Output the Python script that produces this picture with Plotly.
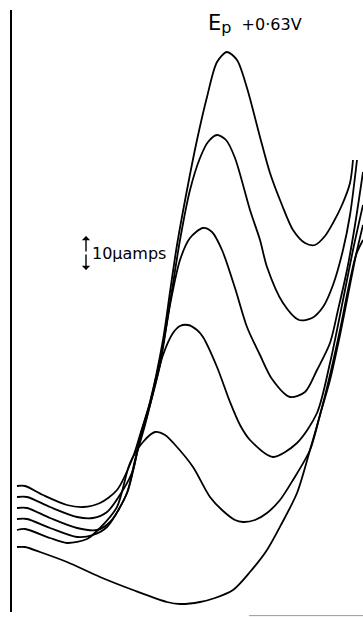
import plotly.graph_objects as go

# Potential axis (arbitrary units, left -> right) and current (arbitrary units, up)
# Baseline and five successive voltammograms.
E_base = [17, 25, 40, 67, 100, 133, 167, 180, 200, 215, 233, 250, 267, 282, 297, 310, 320, 330, 340, 348, 356, 363]
I_base = [70, 70, 65, 55, 40, 27, 15, 13, 15, 19, 27, 45, 67, 94, 124, 167, 202, 242, 287, 327, 362, 377]

E_c1 = [17, 25, 43, 67, 83, 100, 117, 133, 140, 150, 163, 170, 177, 187, 197, 207, 217, 227, 237, 247, 260, 270, 282, 293, 305, 315, 325, 333, 342, 350, 353]
I_c1 = [131, 131, 122, 112, 110, 114, 127, 160, 182, 215, 277, 325, 372, 427, 477, 520, 555, 565, 557, 529, 480, 444, 412, 387, 374, 372, 381, 394, 412, 434, 457]

E_c2 = [17, 27, 50, 77, 93, 107, 123, 133, 140, 150, 163, 172, 180, 190, 200, 208, 217, 226, 235, 250, 260, 267, 283, 299, 312, 323, 333, 343, 350, 357]
I_c2 = [120, 120, 110, 100, 99, 105, 127, 147, 180, 214, 272, 327, 377, 427, 459, 475, 482, 477, 459, 407, 377, 350, 314, 297, 299, 310, 332, 367, 402, 457]

E_c3 = [17, 27, 50, 77, 97, 110, 127, 140, 150, 160, 170, 180, 190, 203, 212, 222, 235, 247, 260, 272, 290, 305, 317, 330, 338, 347, 355, 363]
I_c3 = [109, 109, 99, 89, 87, 95, 124, 177, 212, 252, 312, 357, 379, 389, 385, 367, 329, 290, 262, 238, 220, 225, 247, 274, 307, 347, 392, 445]

E_c4 = [17, 27, 50, 77, 93, 107, 127, 135, 145, 155, 163, 173, 180, 188, 197, 203, 217, 230, 240, 250, 273, 297, 317, 330, 337, 345, 353, 363]
I_c4 = [98, 98, 89, 80, 82, 90, 124, 157, 192, 232, 262, 284, 291, 292, 287, 280, 250, 215, 192, 177, 160, 174, 204, 254, 287, 327, 367, 412]

E_c5 = [17, 25, 50, 67, 87, 100, 117, 130, 143, 155, 165, 177, 193, 210, 222, 235, 243, 255, 267, 280, 293, 310, 320, 330, 340, 348, 356, 363]
I_c5 = [87, 88, 79, 74, 78, 89, 110, 154, 175, 185, 182, 170, 150, 120, 107, 97, 95, 97, 104, 117, 137, 167, 202, 237, 282, 322, 362, 392]

curves = [(E_base, I_base), (E_c1, I_c1), (E_c2, I_c2), (E_c3, I_c3), (E_c4, I_c4), (E_c5, I_c5)]

title_text = ("<span style='font-size:21px'>E</span><sub><span style='font-size:16px'>p</span></sub>"
              "&nbsp;&nbsp;+0·63V")
scale_text = "10μamps"

fig = go.Figure()
for E, I in curves:
    fig.add_trace(go.Scatter(x=E, y=I, mode="lines", line=dict(color="black", width=1.8, shape="spline", smoothing=0.8),
                             hoverinfo="skip", showlegend=False, cliponaxis=False))

FONT = "DejaVu Sans"
fig.add_annotation(x=206, y=593, xref="x", yref="y", text=title_text, showarrow=False,
                   font=dict(family=FONT, size=16, color="black"), xanchor="left", yanchor="middle")
fig.add_annotation(x=90, y=364, xref="x", yref="y", text=scale_text, showarrow=False,
                   font=dict(family=FONT, size=16, color="black"), xanchor="left", yanchor="middle")
# scale bar (double-headed arrow)
fig.add_annotation(x=86, y=381, xref="x", yref="y", ax=86, ay=364, axref="x", ayref="y", text="",
                   showarrow=True, arrowhead=1, arrowsize=1, arrowwidth=1.4, arrowcolor="black")
fig.add_annotation(x=86, y=347, xref="x", yref="y", ax=86, ay=364, axref="x", ayref="y", text="",
                   showarrow=True, arrowhead=1, arrowsize=1, arrowwidth=1.4, arrowcolor="black")
# faint baseline piece at the bottom right
fig.add_shape(type="line", xref="x", yref="paper", x0=249, x1=363, y0=-0.006, y1=-0.006,
              line=dict(color="#999999", width=1))

fig.update_layout(
    width=363, height=617,
    margin=dict(l=12, r=0, t=10, b=5),
    paper_bgcolor="white", plot_bgcolor="white",
    xaxis=dict(range=[12, 363], showgrid=False, zeroline=False, showticklabels=False, ticks="", showline=False),
    yaxis=dict(range=[5, 607], showgrid=False, zeroline=False, showticklabels=False, ticks="",
               showline=True, linecolor="black", linewidth=1.5),
)
# remove the default page margin so the 363x617 figure fills the window exactly
fig.write_html("out.html", config={"displayModeBar": False},
               post_script="document.body.style.margin='0';document.body.style.overflow='hidden';")
